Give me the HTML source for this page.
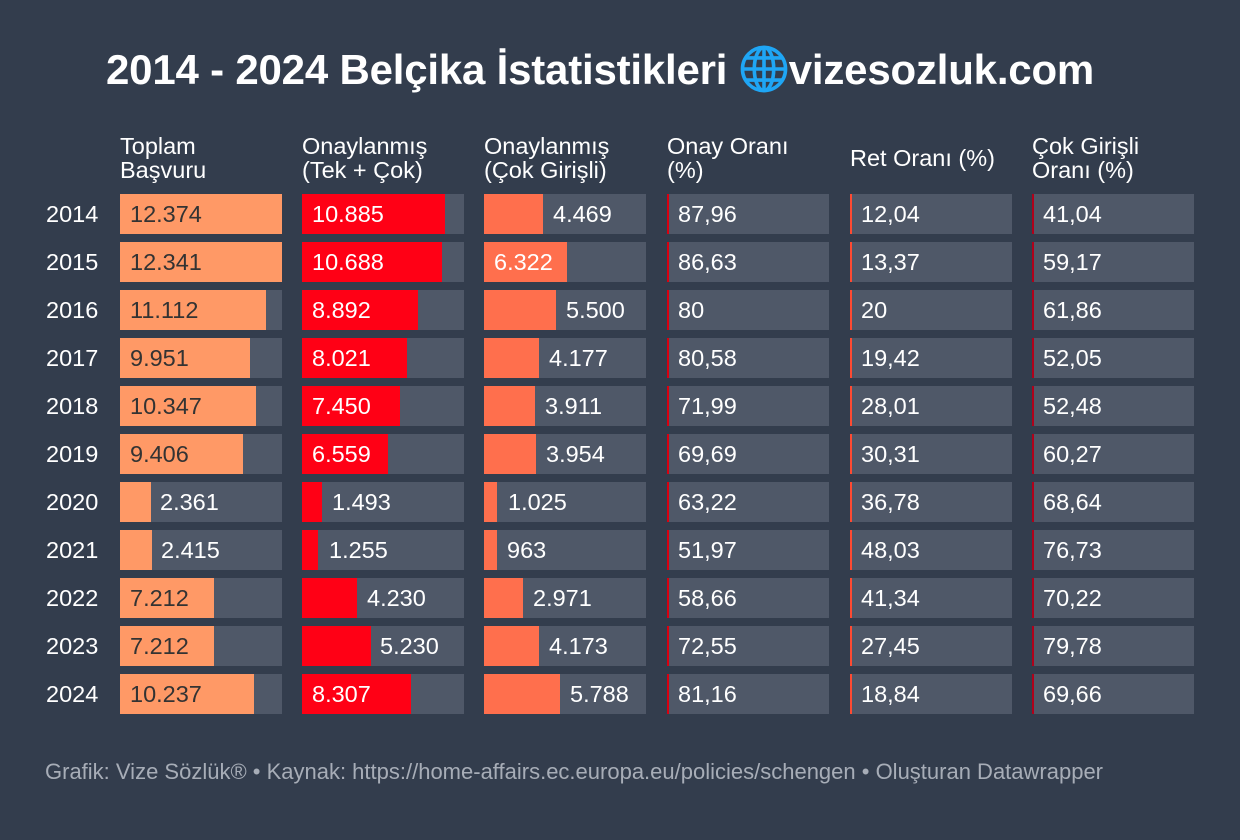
<!DOCTYPE html>
<html><head><meta charset="utf-8"><style>
body{margin:0;width:1240px;height:840px;background:#333d4d;font-family:"Liberation Sans",Arial,sans-serif;color:#fff;position:relative;overflow:hidden}
.t{position:absolute;left:106px;top:44px;font-size:42px;font-weight:bold;letter-spacing:-0.2px;white-space:nowrap;line-height:50px}
.h{position:absolute;top:134px;font-size:23.5px;line-height:24px;color:#fff;white-space:nowrap}
.y{position:absolute;left:46px;font-size:23.5px;line-height:40px}
.c{position:absolute;width:162px;height:40px;background:#4f5868}
.c .b{position:absolute;left:0;top:0;height:40px}
.c span{position:absolute;top:0;line-height:40px;font-size:23.5px;white-space:nowrap}
.p span{left:11px}
.p .b{width:2px}
.f{position:absolute;left:45px;top:759px;font-size:22px;color:#a7adb7;white-space:nowrap}
</style></head><body>
<div class="t">2014 - 2024 Belçika İstatistikleri <svg width="50" height="50" viewBox="0 0 36 36" style="vertical-align:-10px;margin:0 0 0 0"><g fill="none" stroke="#1fa6f5" stroke-width="2.6"><circle cx="18" cy="18" r="15.5"/><ellipse cx="18" cy="18" rx="7" ry="15.5"/><line x1="18" y1="2" x2="18" y2="34"/><line x1="2.5" y1="18" x2="33.5" y2="18"/><line x1="5" y1="10" x2="31" y2="10"/><line x1="5" y1="26" x2="31" y2="26"/></g></svg>vizesozluk.com</div>
<div class="h" style="left:120px">Toplam<br>Başvuru</div>
<div class="h" style="left:302px">Onaylanmış<br>(Tek + Çok)</div>
<div class="h" style="left:484px">Onaylanmış<br>(Çok Girişli)</div>
<div class="h" style="left:667px">Onay Oranı<br>(%)</div>
<div class="h" style="left:850px;top:146px">Ret Oranı (%)</div>
<div class="h" style="left:1032px">Çok Girişli<br>Oranı (%)</div>

<div class="y" style="top:194px">2014</div>
<div class="y" style="top:242px">2015</div>
<div class="y" style="top:290px">2016</div>
<div class="y" style="top:338px">2017</div>
<div class="y" style="top:386px">2018</div>
<div class="y" style="top:434px">2019</div>
<div class="y" style="top:482px">2020</div>
<div class="y" style="top:530px">2021</div>
<div class="y" style="top:578px">2022</div>
<div class="y" style="top:626px">2023</div>
<div class="y" style="top:674px">2024</div>

<div class="c" style="left:120px;top:194px"><div class="b" style="width:162px;background:#ff9966"></div><span style="left:10px;color:#333">12.374</span></div>
<div class="c" style="left:120px;top:242px"><div class="b" style="width:161.6px;background:#ff9966"></div><span style="left:10px;color:#333">12.341</span></div>
<div class="c" style="left:120px;top:290px"><div class="b" style="width:145.5px;background:#ff9966"></div><span style="left:10px;color:#333">11.112</span></div>
<div class="c" style="left:120px;top:338px"><div class="b" style="width:130.3px;background:#ff9966"></div><span style="left:10px;color:#333">9.951</span></div>
<div class="c" style="left:120px;top:386px"><div class="b" style="width:135.5px;background:#ff9966"></div><span style="left:10px;color:#333">10.347</span></div>
<div class="c" style="left:120px;top:434px"><div class="b" style="width:123.1px;background:#ff9966"></div><span style="left:10px;color:#333">9.406</span></div>
<div class="c" style="left:120px;top:482px"><div class="b" style="width:30.9px;background:#ff9966"></div><span style="left:40px">2.361</span></div>
<div class="c" style="left:120px;top:530px"><div class="b" style="width:31.6px;background:#ff9966"></div><span style="left:41px">2.415</span></div>
<div class="c" style="left:120px;top:578px"><div class="b" style="width:94.4px;background:#ff9966"></div><span style="left:10px;color:#333">7.212</span></div>
<div class="c" style="left:120px;top:626px"><div class="b" style="width:94.4px;background:#ff9966"></div><span style="left:10px;color:#333">7.212</span></div>
<div class="c" style="left:120px;top:674px"><div class="b" style="width:134px;background:#ff9966"></div><span style="left:10px;color:#333">10.237</span></div>

<div class="c" style="left:302px;top:194px"><div class="b" style="width:142.5px;background:#ff0015"></div><span style="left:10px">10.885</span></div>
<div class="c" style="left:302px;top:242px"><div class="b" style="width:139.9px;background:#ff0015"></div><span style="left:10px">10.688</span></div>
<div class="c" style="left:302px;top:290px"><div class="b" style="width:116.4px;background:#ff0015"></div><span style="left:10px">8.892</span></div>
<div class="c" style="left:302px;top:338px"><div class="b" style="width:105px;background:#ff0015"></div><span style="left:10px">8.021</span></div>
<div class="c" style="left:302px;top:386px"><div class="b" style="width:97.5px;background:#ff0015"></div><span style="left:10px">7.450</span></div>
<div class="c" style="left:302px;top:434px"><div class="b" style="width:85.9px;background:#ff0015"></div><span style="left:10px">6.559</span></div>
<div class="c" style="left:302px;top:482px"><div class="b" style="width:19.5px;background:#ff0015"></div><span style="left:30px">1.493</span></div>
<div class="c" style="left:302px;top:530px"><div class="b" style="width:16.4px;background:#ff0015"></div><span style="left:27px">1.255</span></div>
<div class="c" style="left:302px;top:578px"><div class="b" style="width:55.4px;background:#ff0015"></div><span style="left:65px">4.230</span></div>
<div class="c" style="left:302px;top:626px"><div class="b" style="width:68.5px;background:#ff0015"></div><span style="left:78px">5.230</span></div>
<div class="c" style="left:302px;top:674px"><div class="b" style="width:108.8px;background:#ff0015"></div><span style="left:10px">8.307</span></div>

<div class="c" style="left:484px;top:194px"><div class="b" style="width:58.5px;background:#ff6f4d"></div><span style="left:69px">4.469</span></div>
<div class="c" style="left:484px;top:242px"><div class="b" style="width:82.8px;background:#ff6f4d"></div><span style="left:10px">6.322</span></div>
<div class="c" style="left:484px;top:290px"><div class="b" style="width:72px;background:#ff6f4d"></div><span style="left:82px">5.500</span></div>
<div class="c" style="left:484px;top:338px"><div class="b" style="width:54.7px;background:#ff6f4d"></div><span style="left:65px">4.177</span></div>
<div class="c" style="left:484px;top:386px"><div class="b" style="width:51.2px;background:#ff6f4d"></div><span style="left:61px">3.911</span></div>
<div class="c" style="left:484px;top:434px"><div class="b" style="width:51.8px;background:#ff6f4d"></div><span style="left:62px">3.954</span></div>
<div class="c" style="left:484px;top:482px"><div class="b" style="width:13.4px;background:#ff6f4d"></div><span style="left:24px">1.025</span></div>
<div class="c" style="left:484px;top:530px"><div class="b" style="width:12.6px;background:#ff6f4d"></div><span style="left:23px">963</span></div>
<div class="c" style="left:484px;top:578px"><div class="b" style="width:38.9px;background:#ff6f4d"></div><span style="left:49px">2.971</span></div>
<div class="c" style="left:484px;top:626px"><div class="b" style="width:54.6px;background:#ff6f4d"></div><span style="left:65px">4.173</span></div>
<div class="c" style="left:484px;top:674px"><div class="b" style="width:75.8px;background:#ff6f4d"></div><span style="left:86px">5.788</span></div>

<div class="c p" style="left:667px;top:194px"><div class="b" style="background:#d90010"></div><span>87,96</span></div>
<div class="c p" style="left:667px;top:242px"><div class="b" style="background:#d90010"></div><span>86,63</span></div>
<div class="c p" style="left:667px;top:290px"><div class="b" style="background:#d90010"></div><span>80</span></div>
<div class="c p" style="left:667px;top:338px"><div class="b" style="background:#d90010"></div><span>80,58</span></div>
<div class="c p" style="left:667px;top:386px"><div class="b" style="background:#d90010"></div><span>71,99</span></div>
<div class="c p" style="left:667px;top:434px"><div class="b" style="background:#d90010"></div><span>69,69</span></div>
<div class="c p" style="left:667px;top:482px"><div class="b" style="background:#d90010"></div><span>63,22</span></div>
<div class="c p" style="left:667px;top:530px"><div class="b" style="background:#d90010"></div><span>51,97</span></div>
<div class="c p" style="left:667px;top:578px"><div class="b" style="background:#d90010"></div><span>58,66</span></div>
<div class="c p" style="left:667px;top:626px"><div class="b" style="background:#d90010"></div><span>72,55</span></div>
<div class="c p" style="left:667px;top:674px"><div class="b" style="background:#d90010"></div><span>81,16</span></div>

<div class="c p" style="left:850px;top:194px"><div class="b" style="background:#ff4a32"></div><span>12,04</span></div>
<div class="c p" style="left:850px;top:242px"><div class="b" style="background:#ff4a32"></div><span>13,37</span></div>
<div class="c p" style="left:850px;top:290px"><div class="b" style="background:#ff4a32"></div><span>20</span></div>
<div class="c p" style="left:850px;top:338px"><div class="b" style="background:#ff4a32"></div><span>19,42</span></div>
<div class="c p" style="left:850px;top:386px"><div class="b" style="background:#ff4a32"></div><span>28,01</span></div>
<div class="c p" style="left:850px;top:434px"><div class="b" style="background:#ff4a32"></div><span>30,31</span></div>
<div class="c p" style="left:850px;top:482px"><div class="b" style="background:#ff4a32"></div><span>36,78</span></div>
<div class="c p" style="left:850px;top:530px"><div class="b" style="background:#ff4a32"></div><span>48,03</span></div>
<div class="c p" style="left:850px;top:578px"><div class="b" style="background:#ff4a32"></div><span>41,34</span></div>
<div class="c p" style="left:850px;top:626px"><div class="b" style="background:#ff4a32"></div><span>27,45</span></div>
<div class="c p" style="left:850px;top:674px"><div class="b" style="background:#ff4a32"></div><span>18,84</span></div>

<div class="c p" style="left:1032px;top:194px"><div class="b" style="background:#b0001a"></div><span>41,04</span></div>
<div class="c p" style="left:1032px;top:242px"><div class="b" style="background:#b0001a"></div><span>59,17</span></div>
<div class="c p" style="left:1032px;top:290px"><div class="b" style="background:#b0001a"></div><span>61,86</span></div>
<div class="c p" style="left:1032px;top:338px"><div class="b" style="background:#b0001a"></div><span>52,05</span></div>
<div class="c p" style="left:1032px;top:386px"><div class="b" style="background:#b0001a"></div><span>52,48</span></div>
<div class="c p" style="left:1032px;top:434px"><div class="b" style="background:#b0001a"></div><span>60,27</span></div>
<div class="c p" style="left:1032px;top:482px"><div class="b" style="background:#b0001a"></div><span>68,64</span></div>
<div class="c p" style="left:1032px;top:530px"><div class="b" style="background:#b0001a"></div><span>76,73</span></div>
<div class="c p" style="left:1032px;top:578px"><div class="b" style="background:#b0001a"></div><span>70,22</span></div>
<div class="c p" style="left:1032px;top:626px"><div class="b" style="background:#b0001a"></div><span>79,78</span></div>
<div class="c p" style="left:1032px;top:674px"><div class="b" style="background:#b0001a"></div><span>69,66</span></div>

<div class="f">Grafik: Vize Sözlük® • Kaynak: https://home-affairs.ec.europa.eu/policies/schengen • Oluşturan Datawrapper</div>
</body></html>
